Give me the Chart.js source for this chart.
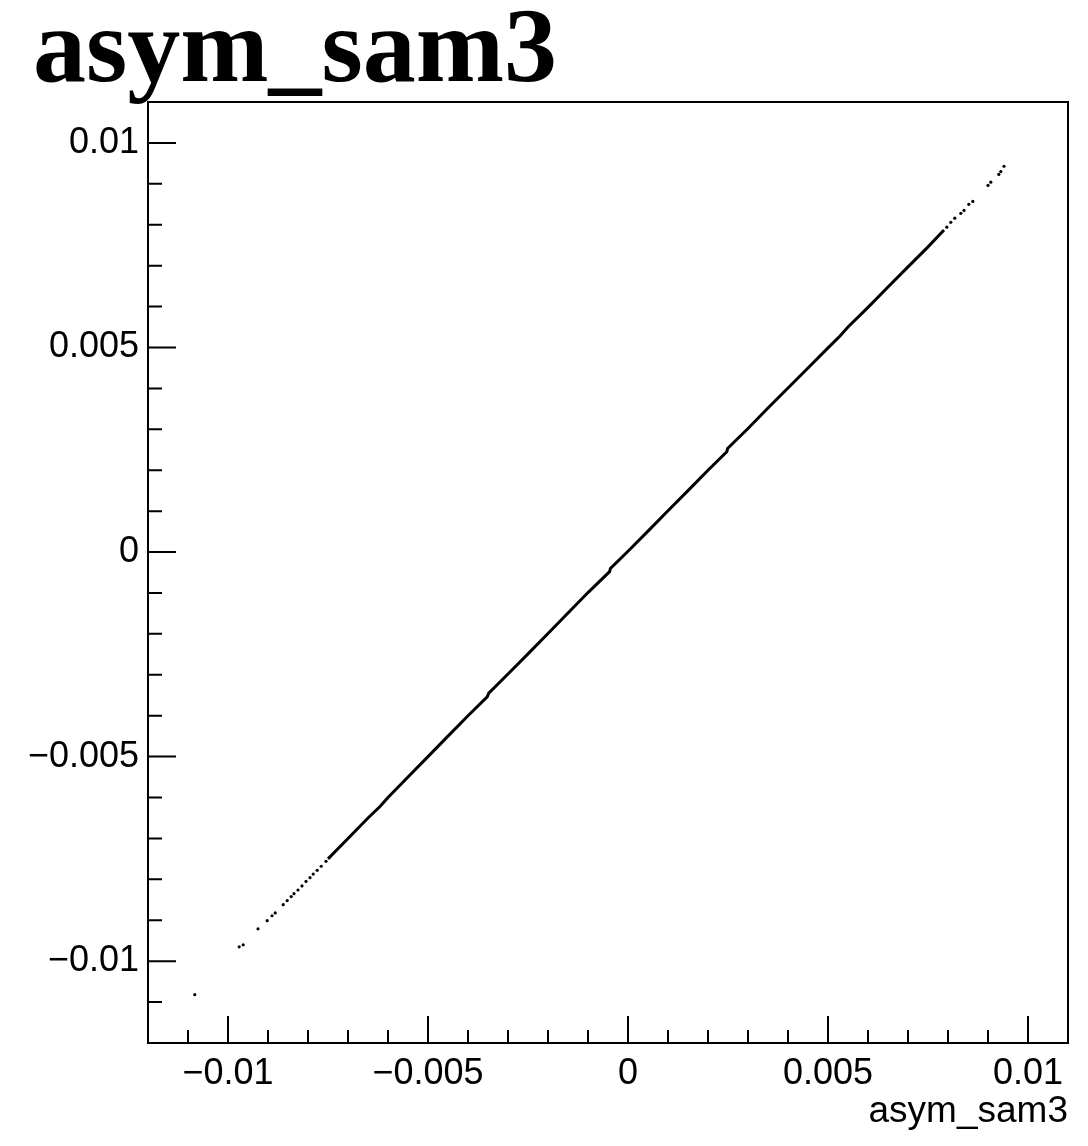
<!DOCTYPE html>
<html>
<head>
<meta charset="utf-8">
<script src="https://cdn.jsdelivr.net/npm/chart.js@4/dist/chart.umd.min.js"></script>
<style>
  body { margin: 0; background: #fff; }
  #wrap { width: 1088px; height: 1146px; }
</style>
</head>
<body>
<div id="wrap"><canvas id="myChart" width="1088" height="1146"></canvas></div>
<script>
// dense core of the scatter (drawn as a continuous thin trace)
var coreX = [-0.0075, -0.0070, -0.0065, -0.0062, -0.0060, -0.0055, -0.0050, -0.0045, -0.0040,
  -0.00352, -0.00348, -0.0030, -0.0025, -0.0020, -0.0015, -0.0010, -0.00046, -0.00044,
  0.0000, 0.0005, 0.0010, 0.0015, 0.0020, 0.00247, 0.00249, 0.0030, 0.0035, 0.0040,
  0.0045, 0.0050, 0.0053, 0.0055, 0.0060, 0.0065, 0.0070, 0.0075, 0.0079];
var coreY = [-0.0075, -0.0070, -0.0065, -0.00622, -0.0060, -0.0055, -0.0050, -0.0045, -0.0040,
  -0.00354, -0.00345, -0.00298, -0.00249, -0.00199, -0.00149, -0.00099, -0.00048, -0.00040,
  0.00002, 0.00051, 0.00101, 0.00150, 0.00200, 0.00245, 0.00253, 0.00302, 0.00352, 0.00401,
  0.00450, 0.00499, 0.00528, 0.00550, 0.00598, 0.00648, 0.00697, 0.00746, 0.00787];

// sparse points at both ends
var tailX = [-0.01083, -0.00972, -0.00962, -0.00925, -0.00902, -0.00890, -0.00882, -0.00862,
  -0.00852, -0.00842, -0.00835, -0.00825, -0.00815, -0.00805, -0.00795, -0.00787, -0.00777,
  -0.00767, -0.00755,
  0.00797, 0.00807, 0.00817, 0.00832, 0.00840, 0.00852, 0.00862, 0.00900, 0.00907, 0.00927,
  0.00932, 0.00940];
var tailY = [-0.01082, -0.00965, -0.00960, -0.00921, -0.00901, -0.00889, -0.00882, -0.00862,
  -0.00852, -0.00842, -0.00835, -0.00826, -0.00816, -0.00805, -0.00796, -0.00787, -0.00778,
  -0.00768, -0.00756,
  0.00794, 0.00806, 0.00816, 0.00828, 0.00835, 0.00850, 0.00857, 0.00896, 0.00904, 0.00923,
  0.00930, 0.00943];

var tickValues = [-0.01, -0.005, 0, 0.005, 0.01];
var minorValues = [-0.012, -0.011, -0.009, -0.008, -0.007, -0.006, -0.004, -0.003, -0.002, -0.001,
  0.001, 0.002, 0.003, 0.004, 0.006, 0.007, 0.008, 0.009, 0.011];

var histTitle = "asym_sam3";
var xTitle = "asym_sam3";

function pairs(xs, ys) {
  var out = [];
  for (var i = 0; i < xs.length; i++) out.push({ x: xs[i], y: ys[i] });
  return out;
}

function fmt(v) {
  if (Math.abs(v) < 1e-9) return "0";
  var s = String(Math.round(Math.abs(v) * 1000) / 1000);
  return (v < 0 ? "\u2212" : "") + s;
}

var frame = {
  id: "frame",
  afterDraw: function (chart) {
    var ctx = chart.ctx;
    var a = chart.chartArea;
    var xs = chart.scales.x, ys = chart.scales.y;
    ctx.save();
    ctx.strokeStyle = "#000";
    ctx.lineWidth = 2;
    ctx.strokeRect(a.left, a.top, a.right - a.left, a.bottom - a.top);
    ctx.beginPath();
    tickValues.forEach(function (v) {
      var px = xs.getPixelForValue(v);
      ctx.moveTo(px, a.bottom); ctx.lineTo(px, a.bottom - 27);
      var py = ys.getPixelForValue(v);
      ctx.moveTo(a.left, py); ctx.lineTo(a.left + 28, py);
    });
    minorValues.forEach(function (v) {
      var px = xs.getPixelForValue(v);
      ctx.moveTo(px, a.bottom); ctx.lineTo(px, a.bottom - 13);
      var py = ys.getPixelForValue(v);
      ctx.moveTo(a.left, py); ctx.lineTo(a.left + 14, py);
    });
    ctx.stroke();
    ctx.fillStyle = "#000";
    ctx.font = "bold 106px 'Liberation Serif'";
    ctx.textBaseline = "alphabetic";
    ctx.textAlign = "left";
    ctx.fillText(histTitle, 33, 81);
    ctx.restore();
  }
};

var labelFont = { family: "'Liberation Sans', Arial, sans-serif", size: 36 };

new Chart("myChart", {
  type: "scatter",
  data: {
    datasets: [
      {
        label: "core",
        data: pairs(coreX, coreY),
        showLine: true,
        borderColor: "#000",
        borderWidth: 3,
        pointRadius: 0,
        fill: false,
      },
      {
        label: "tails",
        data: pairs(tailX, tailY),
        showLine: false,
        pointRadius: 1.6,
        pointBorderWidth: 0,
        backgroundColor: "#000",
      },
    ],
  },
  options: {
    responsive: false,
    animation: false,
    layout: { padding: { top: 102, right: 20, left: 0, bottom: 0 } },
    plugins: { legend: { display: false }, tooltip: { enabled: false }, title: { display: false } },
    scales: {
      x: {
        type: "linear",
        position: "bottom",
        min: -0.012,
        max: 0.011,
        grid: { display: false },
        border: { display: false },
        afterBuildTicks: function (s) { s.ticks = tickValues.map(function (v) { return { value: v }; }); },
        afterFit: function (s) { s.height = 103; },
        ticks: { color: "#000", font: labelFont, padding: 1, maxRotation: 0, callback: fmt },
        title: { display: true, text: xTitle, align: "end", color: "#000", font: { family: labelFont.family, size: 37 }, padding: { top: 0, bottom: 12 } },
      },
      y: {
        type: "linear",
        min: -0.012,
        max: 0.011,
        grid: { display: false },
        border: { display: false },
        afterBuildTicks: function (s) { s.ticks = tickValues.map(function (v) { return { value: v }; }); },
        afterFit: function (s) { s.width = 148; },
        ticks: { color: "#000", font: labelFont, padding: 1, callback: fmt },
      },
    },
  },
  plugins: [frame],
});
</script>
</body>
</html>
